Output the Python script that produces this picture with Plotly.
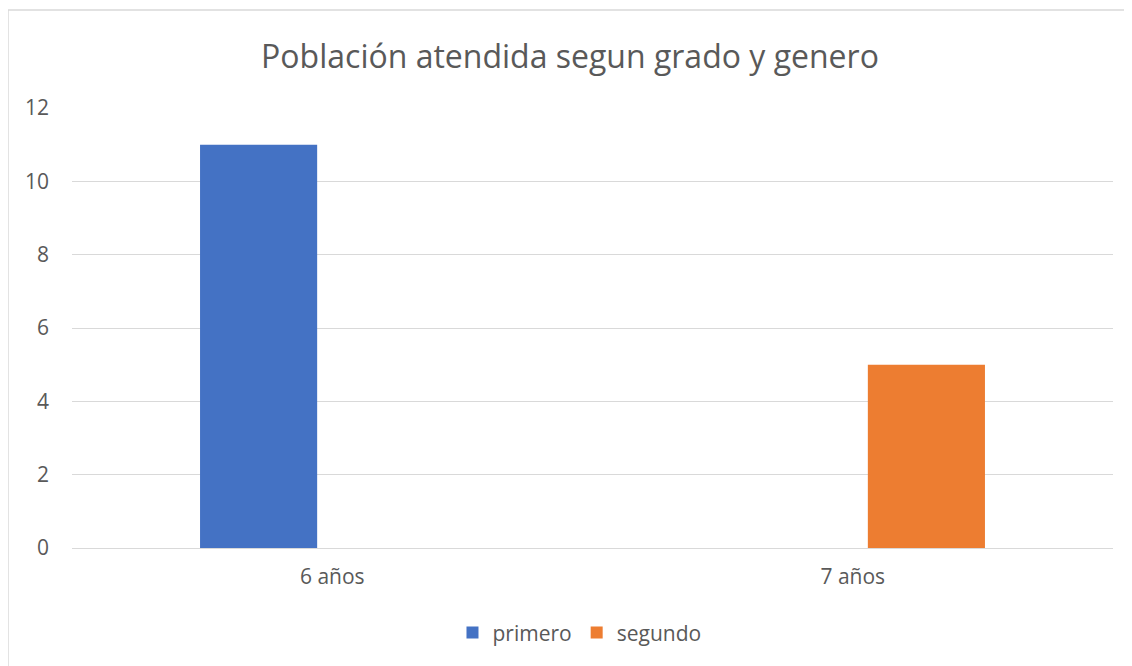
import plotly.graph_objects as go

categories = ["6 años", "7 años"]
primero = [11, 0]
segundo = [0, 5]
series_names = ["primero", "segundo"]
colors = ["#4472C4", "#ED7D31"]
title_text = "Población atendida segun grado y genero"

font_family = "Open Sans, Noto Sans, sans-serif"
txt = "#595959"

fig = go.Figure()
fig.add_trace(go.Bar(x=categories, y=primero, name=series_names[0],
                     marker_color=colors[0], marker_line_width=0,
                     offset=-0.254, width=0.225))
fig.add_trace(go.Bar(x=categories, y=segundo, name=series_names[1],
                     marker_color=colors[1], marker_line_width=0,
                     offset=0.029, width=0.225))

fig.update_layout(
    width=1124, height=658,
    margin=dict(l=64, r=19, t=100, b=118),
    paper_bgcolor="white", plot_bgcolor="white",
    barmode="group",
    title=dict(text=title_text, x=0.5, xanchor="center", y=1 - 49/658, yanchor="middle",
               font=dict(family=font_family, size=32, color=txt)),
    font=dict(family=font_family, size=21, color=txt),
    showlegend=True,
    legend=dict(orientation="h", x=0.4875, xanchor="center", y=-0.193, yanchor="middle",
                font=dict(size=21, color=txt), itemwidth=30, traceorder="normal"),
    xaxis=dict(showgrid=False, showline=True, linecolor="#d9d9d9", linewidth=1,
               ticks="", tickfont=dict(size=21, color=txt), ticklabelstandoff=10),
    yaxis=dict(range=[0, 12], dtick=2, showgrid=True, gridcolor="#d9d9d9", gridwidth=1,
               zeroline=False, showline=False, ticks="",
               tickfont=dict(size=21, color=txt), ticklabelstandoff=22),
    shapes=[dict(type="rect", xref="paper", yref="paper",
                 x0=-0.0615, x1=1.05, y0=-0.35, y1=1.2227,
                 line=dict(color="#d9d9d9", width=1.5), fillcolor="rgba(0,0,0,0)", layer="below")],
)

fig.write_html("out.html")
